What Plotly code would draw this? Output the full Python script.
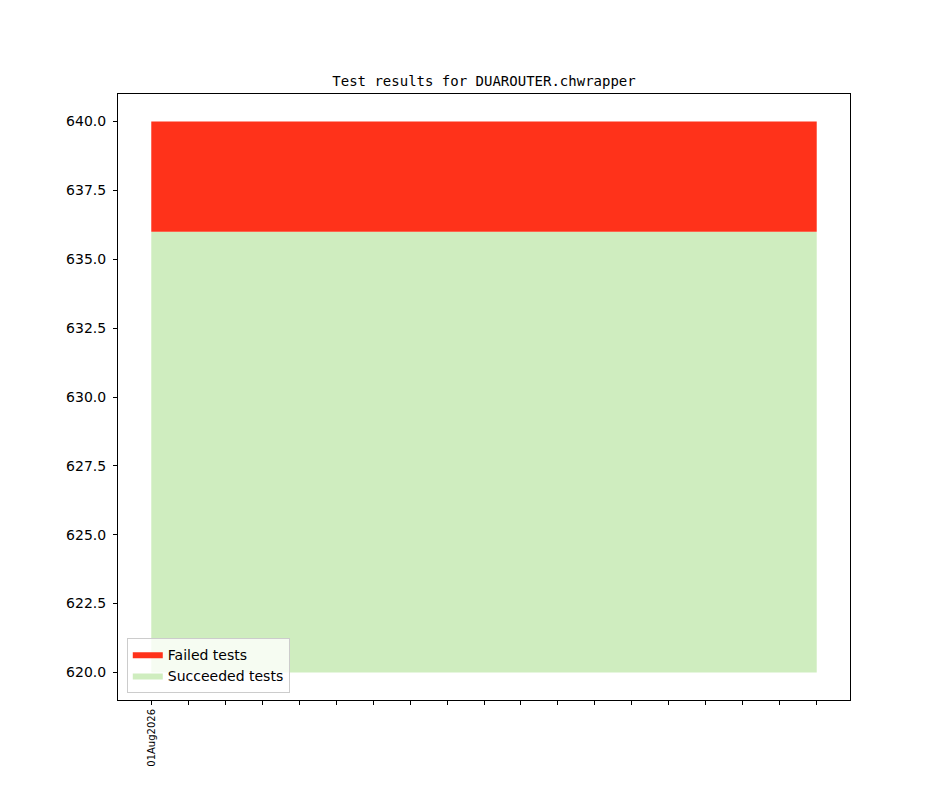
import plotly.graph_objects as go

# one slot per tick on the x axis, only the first one carries a date
days = list(range(19))
day_labels = ["01Aug2026"] + [""] * 18
base = [620] * 19
succeeded = [636] * 19
total = [640] * 19

fig = go.Figure()

# invisible baseline so the green fill starts at 620 instead of 0
fig.add_trace(go.Scatter(x=days, y=base, mode="lines", line=dict(width=0),
                         showlegend=False, hoverinfo="skip"))
fig.add_trace(go.Scatter(x=days, y=succeeded, mode="lines", name="Succeeded tests",
                         fill="tonexty", fillcolor="#cfedbf", line=dict(width=0)))
fig.add_trace(go.Scatter(x=days, y=total, mode="lines", name="Failed tests",
                         fill="tonexty", fillcolor="#ff321a", line=dict(width=0)))

axis_style = dict(showline=True, linecolor="black", linewidth=1, mirror=True,
                  ticks="outside", ticklen=4, tickcolor="black",
                  showgrid=False, zeroline=False)

fig.update_xaxes(range=[-0.9, 18.9], tickmode="array", tickvals=days, ticktext=day_labels,
                 tickangle=-90, tickfont=dict(family="DejaVu Sans", size=10, color="black"),
                 **axis_style)
fig.update_yaxes(range=[619, 641], tick0=620, dtick=2.5, tickformat=".1f",
                 tickfont=dict(family="DejaVu Sans", size=14, color="black"),
                 ticklabelstandoff=4, **axis_style)

# page body has an 8px margin, so the figure is a bit smaller than the window
fig.update_layout(
    width=936, height=779,
    margin=dict(l=110, r=94, t=86, b=87),
    paper_bgcolor="white", plot_bgcolor="white",
    title=dict(text="Test results for DUAROUTER.chwrapper", x=0.5, xanchor="center",
               xref="paper", y=1 - 73 / 779, yref="container", yanchor="middle",
               font=dict(family="DejaVu Sans Mono", size=14, color="black")),
    legend=dict(x=0.012, y=0.012, xanchor="left", yanchor="bottom",
                traceorder="reversed", bgcolor="rgba(255,255,255,0.8)",
                bordercolor="#cccccc", borderwidth=1,
                font=dict(family="DejaVu Sans", size=14, color="black")),
)

fig.write_html("out.html")
